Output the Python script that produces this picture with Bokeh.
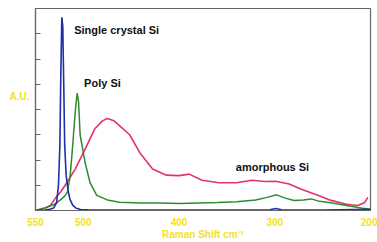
from bokeh.plotting import figure
from bokeh.models import Range1d, FixedTicker, Label
from bokeh.embed import file_html
from bokeh.resources import INLINE

# Raman shift (cm^-1) and intensities (A.U.)
single_shift = [550, 540, 535, 531, 528, 526, 524.5, 523.5, 522.5, 521.5, 520.5, 519.5, 518, 516, 514, 511, 508, 503, 495, 480, 400, 305, 299, 293, 250, 200]
single_int   = [0.0, 0.02, 0.05, 0.1, 0.3, 1.0, 2.6, 5.5, 7.65, 7.3, 5.0, 2.6, 1.4, 0.8, 0.44, 0.2, 0.1, 0.04, 0.03, 0.02, 0.02, 0.03, 0.08, 0.03, 0.02, 0.05]

poly_shift = [550, 540, 530, 524, 520, 516.8, 514, 511.7, 508.5, 506.5, 505, 503.4, 500.5, 498.2, 493, 486, 475, 462, 440, 420, 400, 380, 360, 340, 320, 308, 298, 290, 280, 270, 262, 255, 240, 225, 210, 200]
poly_int   = [0.0, 0.1, 0.25, 0.42, 0.55, 0.72, 1.3, 2.3, 3.9, 4.65, 4.3, 3.0, 2.4, 1.9, 1.1, 0.6, 0.42, 0.33, 0.3, 0.3, 0.28, 0.3, 0.32, 0.35, 0.42, 0.52, 0.62, 0.5, 0.4, 0.42, 0.46, 0.38, 0.3, 0.2, 0.1, 0.05]

amorph_shift = [550, 540, 534.5, 529, 524, 519, 508.5, 498, 488, 480, 475, 468, 462, 451.6, 441.2, 427.7, 413.2, 400, 389.4, 376, 358.3, 340, 324, 310, 299.2, 285, 272.3, 255, 241.2, 225, 213.2, 206, 202.8]
amorph_int   = [0.0, 0.1, 0.2, 0.5, 0.72, 1.0, 1.64, 2.44, 3.24, 3.55, 3.64, 3.55, 3.35, 3.0, 2.3, 1.64, 1.4, 1.38, 1.44, 1.2, 1.1, 1.1, 1.2, 1.15, 1.16, 1.05, 0.84, 0.6, 0.4, 0.25, 0.2, 0.32, 0.52]

x_ticks = [550, 500, 400, 300, 200]
y_ticks = [0, 1, 2, 3, 4, 5, 6, 7, 8]

YELLOW = "#f3e21e"
FONT = "Liberation Sans"

p = figure(width=377, height=242, output_backend="svg", toolbar_location=None,
           x_range=Range1d(550, 200), y_range=Range1d(0, 8))
p.min_border_left = 35
p.min_border_right = 7
p.min_border_top = 8
p.min_border_bottom = 0
p.background_fill_color = "white"
p.border_fill_color = "white"
p.outline_line_color = "#666666"
p.outline_line_width = 1.2
p.grid.visible = False

p.line(amorph_shift, amorph_int, line_color="#e2336b", line_width=1.6)
p.line(poly_shift, poly_int, line_color="#2f8a30", line_width=1.5)
p.line(single_shift, single_int, line_color="#1e2fa8", line_width=1.6)

xa = p.xaxis[0]
xa.ticker = FixedTicker(ticks=x_ticks)
xa.major_tick_line_color = None
xa.major_tick_in = 0
xa.major_tick_out = 0
xa.minor_tick_line_color = None
xa.minor_tick_in = 0
xa.minor_tick_out = 0
xa.axis_line_color = "#666666"
xa.axis_line_width = 1.2
xa.major_label_text_color = YELLOW
xa.major_label_text_font = FONT
xa.major_label_text_font_style = "bold"
xa.major_label_text_font_size = "10px"
xa.major_label_standoff = 7
xa.axis_label = "Raman Shift cm\u207b\u00b9"
xa.axis_label_text_color = YELLOW
xa.axis_label_text_font = FONT
xa.axis_label_text_font_style = "bold"
xa.axis_label_text_font_size = "10px"
xa.axis_label_standoff = 0

ya = p.yaxis[0]
ya.ticker = FixedTicker(ticks=y_ticks)
ya.major_tick_in = 5
ya.major_tick_out = 0
ya.minor_tick_in = 0
ya.minor_tick_out = 0
ya.major_tick_line_color = "#666666"
ya.minor_tick_line_color = None
ya.axis_line_color = "#666666"
ya.axis_line_width = 1.2
ya.major_label_text_font_size = "0px"
ya.major_label_text_color = None
ya.major_label_standoff = 0

ya.axis_label = "A.U.\n \n "
ya.axis_label_orientation = "horizontal"
ya.axis_label_text_color = YELLOW
ya.axis_label_text_font = FONT
ya.axis_label_text_font_style = "bold"
ya.axis_label_text_font_size = "10px"
ya.axis_label_standoff = 6

p.add_layout(Label(x=509.6, y=7.16, text="Single crystal Si", text_color="#111111", text_font=FONT,
                   text_font_style="bold", text_font_size="11px", text_baseline="middle"))
p.add_layout(Label(x=499.2, y=5.04, text="Poly Si", text_color="#111111", text_font=FONT,
                   text_font_style="bold", text_font_size="11px", text_baseline="middle"))
p.add_layout(Label(x=340.7, y=1.72, text="amorphous Si", text_color="#111111", text_font=FONT,
                   text_font_style="bold", text_font_size="11px", text_baseline="middle"))

open("out.html", "w").write(file_html(p, INLINE))
